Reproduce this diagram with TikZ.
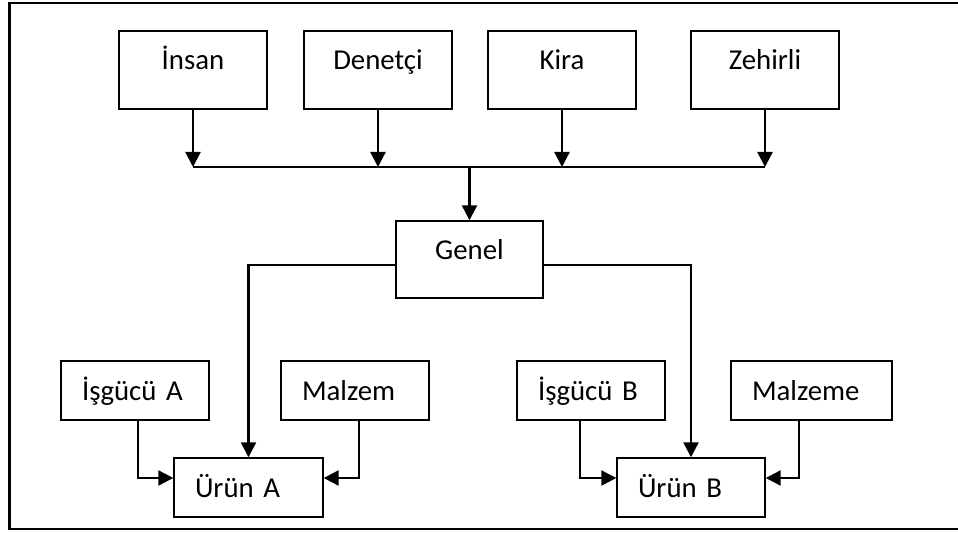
\documentclass[tikz,border=0pt]{standalone}
\usepackage{fontspec}
\setmainfont{Carlito}
\usetikzlibrary{arrows.meta}
\begin{document}
\begin{tikzpicture}[x=1pt,y=-1pt,
  every node/.style={font=\fontsize{28.8}{34}\selectfont},
  tbox/.style={draw, line width=1.4pt, minimum width=148pt, minimum height=78pt, inner sep=0pt, text height=10pt, text depth=10pt},
  bbox/.style={draw, line width=1.4pt, text width=#1, inner xsep=21pt, inner ysep=0pt, align=left, minimum height=59pt, text height=19pt, text depth=0pt},
  bbox/.default=106pt,
  conn/.style={line width=2.3pt},
  arr/.style={conn, -{Triangle[length=15pt,width=15pt]}}
]
\clip (0,0) rectangle (958,534);
% frame (right edge lies outside the picture)
\draw[line width=2.5pt] (975,3) -- (9.5,3) -- (9.5,529) -- (975,529);

\node[tbox] (ins) at (193,70) {İnsan};
\node[tbox] (den) at (378,70) {Denetçi};
\node[tbox] (kir) at (562,70) {Kira};
\node[tbox] (zeh) at (765,70) {Zehirli};

\node[tbox, minimum width=147pt, minimum height=77pt] (gen) at (469.5,259.5) {Genel};

\node[bbox] (isa) at (135,390.5) {İşgücü A};
\node[bbox] (mza) at (355,390.5) {Malzem};
\node[bbox=107pt] (ua) at (248.5,487.5) {Ürün A};
\node[bbox] (isb) at (591,390.5) {İşgücü B};
\node[bbox=119pt] (mzb) at (811.5,390.5) {Malzeme};
\node[bbox] (ub) at (691,487.5) {Ürün B};

\coordinate (busy) at (0,167);
\draw[conn] (ins.south |- busy) -- (zeh.south |- busy);
\foreach \n in {ins,den,kir,zeh}
  \draw[arr] (\n.south) -- (\n.south |- busy);
\draw[arr] (gen.north |- busy) -- (gen.north);

\draw[arr] ([yshift=-5.5pt]gen.west) -| (ua.north);
\draw[arr] ([yshift=-5.5pt]gen.east) -| (ub.north);

\draw[arr] ([xshift=3pt]isa.south) |- ([yshift=9.5pt]ua.west);
\draw[arr] ([xshift=4pt]mza.south) |- ([yshift=9.5pt]ua.east);
\draw[arr] ([xshift=-11pt]isb.south) |- ([yshift=9.5pt]ub.west);
\draw[arr] ([xshift=-12.5pt]mzb.south) |- ([yshift=9.5pt]ub.east);
\end{tikzpicture}
\end{document}
